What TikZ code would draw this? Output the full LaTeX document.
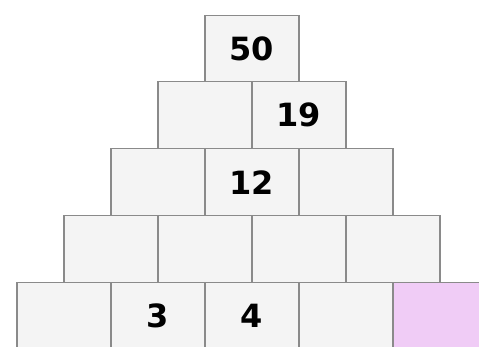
\documentclass[tikz,border=0pt]{standalone}
\usepackage{fontspec}
\setmainfont{DejaVu Sans}
\definecolor{boxfill}{HTML}{F4F4F4}
\definecolor{boxline}{HTML}{8A8A8A}
\definecolor{pinkfill}{HTML}{F0CCF6}
\begin{document}
\begin{tikzpicture}[x=1pt,y=-1pt,
  cell/.style={draw=boxline, line width=1.5pt, fill=boxfill, minimum width=94pt, minimum height=67pt, inner sep=0pt, anchor=north west, font=\fontsize{32}{32}\selectfont\bfseries}]
\useasboundingbox (0,0) rectangle (479,347);
\clip (0,0) rectangle (479,347);
% row 1
\node[cell] (r1a) at (204,15) {50};
% row 2
\node[cell] (r2a) at (157,81) {};
\node[cell] (r2b) at (251,81) {19};
% row 3
\node[cell] (r3a) at (110,148) {};
\node[cell] (r3b) at (204,148) {12};
\node[cell] (r3c) at (298,148) {};
% row 4
\node[cell] (r4a) at (63,215) {};
\node[cell] (r4b) at (157,215) {};
\node[cell] (r4c) at (251,215) {};
\node[cell] (r4d) at (345,215) {};
% row 5
\node[cell] (r5a) at (16,282) {};
\node[cell] (r5b) at (110,282) {3};
\node[cell] (r5c) at (204,282) {4};
\node[cell] (r5d) at (298,282) {};
\node[cell, fill=pinkfill] (r5e) at (392,282) {};
\end{tikzpicture}
\end{document}
